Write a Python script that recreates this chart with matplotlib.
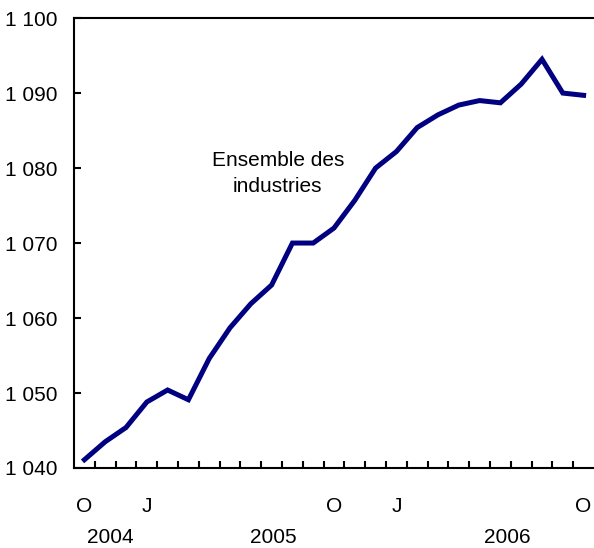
import matplotlib.pyplot as plt
import matplotlib.transforms as mtransforms

plt.rcParams['font.family'] = ['Liberation Sans', 'DejaVu Sans']

# monthly values, Oct 2004 .. Oct 2006
values = [1041.1, 1043.5, 1045.4, 1048.8, 1050.4, 1049.1, 1054.6, 1058.7,
          1061.9, 1064.4, 1070.0, 1070.0, 1072.0, 1075.7, 1080.0, 1082.2,
          1085.4, 1087.1, 1088.4, 1089.0, 1088.7, 1091.2, 1094.5, 1090.0,
          1089.7]
month_labels = {0: 'O', 3: 'J', 12: 'O', 15: 'J', 24: 'O'}
years = ['2004', '2005', '2006']
year_pos = [1.25, 9.1, 20.35]
yticks = [1040, 1050, 1060, 1070, 1080, 1090, 1100]

fig = plt.figure(figsize=(5.94, 5.48), dpi=100)
ax = fig.add_axes([0.1246, 0.146, 0.8754, 0.821])

x = list(range(len(values)))
ax.plot(x, values, color='#000080', lw=3.6, solid_joinstyle='miter')

ax.set_xlim(-0.5, len(values) - 0.5)
ax.set_ylim(1040, 1100)

# month boundaries as ticks, labels at month centres
ax.set_xticks([i + 0.5 for i in range(len(values) - 1)])
ax.set_xticklabels([])
ax.set_xticks(list(month_labels.keys()), minor=True)
ax.set_xticklabels(list(month_labels.values()), minor=True)
ax.tick_params(axis='x', which='major', direction='in', length=5, width=1.5)
ax.tick_params(axis='x', which='minor', length=0, pad=21, labelsize=15)

ax.set_yticks(yticks)
ax.set_yticklabels([f'{v // 1000} {v % 1000:03d}' for v in yticks])
ax.tick_params(axis='y', direction='in', length=5, width=1.5, labelsize=15, pad=12)

trans = mtransforms.blended_transform_factory(ax.transData, ax.transAxes)
for yr, p in zip(years, year_pos):
    ax.text(p, -0.155, yr, transform=trans, ha='center', va='center', fontsize=15)

ax.text(9.3, 1079.3, 'Ensemble des\nindustries', ha='center', va='center',
        fontsize=15, linespacing=1.45)

for s in ['left', 'top', 'bottom']:
    ax.spines[s].set_linewidth(1.5)
ax.spines['right'].set_visible(False)

fig.savefig('out.png', dpi=100)
